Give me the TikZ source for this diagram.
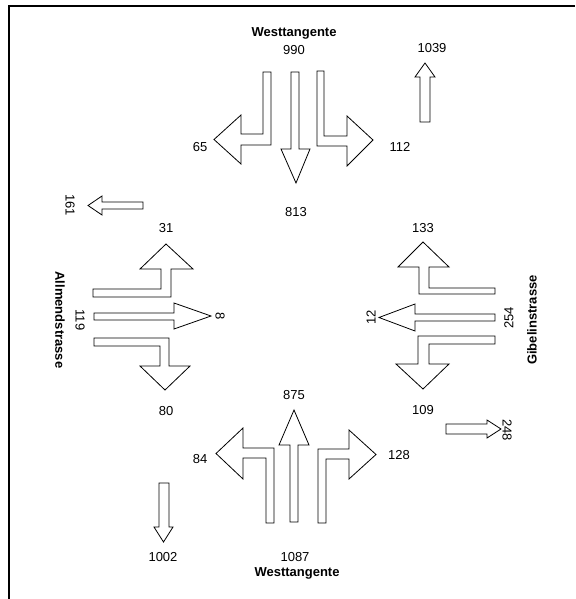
\documentclass[tikz,border=0pt]{standalone}
\usepackage{fontspec}
\setmainfont{Liberation Sans}
\begin{document}
\begin{tikzpicture}[x=1pt,y=-1pt,
  arr/.style={draw=black, fill=white, line width=0.8pt, line join=miter},
  lbl/.style={inner sep=0pt, font=\fontsize{13}{15}\selectfont},
  street/.style={inner sep=0pt, font=\fontsize{13}{15}\selectfont\bfseries},
  frameline/.style={line width=1.5pt}]
\useasboundingbox (0,0) rectangle (575,599);
% frame (clipped on right and bottom)
\coordinate (fbl) at (9,599);
\coordinate (ftl) at (9,6);
\coordinate (ftr) at (575,6);
\draw[frameline] (fbl) -- (ftl) -- (ftr);

% ---- top arm (Westtangente, from north)
\draw[arr] (271,72) -- (271,145) -- (241,145) -- (241,164) -- (214,139.5) -- (241,115) -- (241,134) -- (263,134) -- (263,72) -- cycle;
\draw[arr] (291,72) -- (299,72) -- (299,149) -- (310,149) -- (296,183) -- (281,149) -- (291,149) -- cycle;
\draw[arr] (317,71) -- (324,71) -- (324,136) -- (347,136) -- (347,116) -- (373,140) -- (347,166) -- (347,146) -- (317,146) -- cycle;
\node[street] (wtop) at (294,33) {Westtangente};
\node[lbl] (n990) at (294,50) {990};
\node[lbl] (n65) at (200,147) {65};
\node[lbl] (n112) at (400,147) {112};
\node[lbl] (n813) at (296,212) {813};
% exit north
\draw[arr] (420,122) -- (420,77) -- (415,77) -- (425,63) -- (435,77) -- (430,77) -- (430,122) -- cycle;
\node[lbl] (n1039) at (432,48) {1039};

% ---- left arm (Allmendstrasse)
\draw[arr] (93,289) -- (161,289) -- (161,269) -- (140,269) -- (166,244) -- (193,269) -- (171,269) -- (171,297) -- (93,297) -- cycle;
\draw[arr] (94,313) -- (174,313) -- (174,303) -- (211,316) -- (174,329) -- (174,320) -- (94,320) -- cycle;
\draw[arr] (94,338) -- (169,338) -- (169,366) -- (190,366) -- (165,390) -- (140,366) -- (160,366) -- (160,346) -- (94,346) -- cycle;
\node[street, rotate=-90] (wleft) at (60,320) {Allmendstrasse};
\node[lbl, rotate=-90] (n119) at (80,320) {119};
\node[lbl] (n31) at (166,228) {31};
\node[lbl, rotate=-90] (n8) at (220,316) {8};
\node[lbl] (n80) at (166,411) {80};
% exit west
\draw[arr] (143,202) -- (102,202) -- (102,196) -- (88,205.5) -- (102,215) -- (102,209) -- (143,209) -- cycle;
\node[lbl, rotate=-90] (n161) at (70,205) {161};

% ---- right arm (Gibelinstrasse)
\draw[arr] (495,288) -- (429,288) -- (429,267) -- (449,267) -- (423,242) -- (398,267) -- (419,267) -- (419,294) -- (495,294) -- cycle;
\draw[arr] (495,314) -- (415,314) -- (415,304) -- (379,317.5) -- (415,331) -- (415,321) -- (495,321) -- cycle;
\draw[arr] (495,336) -- (418,336) -- (418,364) -- (396,364) -- (423,389) -- (449,364) -- (429,364) -- (429,344) -- (495,344) -- cycle;
\node[street, rotate=90] (wright) at (532,320) {Gibelinstrasse};
\node[lbl, rotate=90] (n254) at (509,318) {254};
\node[lbl] (n133) at (423,228) {133};
\node[lbl, rotate=90] (n12) at (371,317) {12};
\node[lbl] (n109) at (423,410) {109};
% exit east
\draw[arr] (446,424) -- (487,424) -- (487,420) -- (501,429) -- (487,438) -- (487,434) -- (446,434) -- cycle;
\node[lbl, rotate=-90] (n248) at (507,430) {248};

% ---- bottom arm (Westtangente, from south)
\draw[arr] (274,523) -- (274,448) -- (243,448) -- (243,428) -- (216,453.5) -- (243,479) -- (243,458) -- (266,458) -- (266,523) -- cycle;
\draw[arr] (290,522) -- (290,445) -- (279,445) -- (294,410) -- (309,445) -- (298,445) -- (298,522) -- cycle;
\draw[arr] (318,523) -- (318,449) -- (349,449) -- (349,430) -- (376,454.5) -- (349,479) -- (349,459) -- (326,459) -- (326,523) -- cycle;
\node[lbl] (n875) at (294,395) {875};
\node[lbl] (n84) at (200,459) {84};
\node[lbl] (n128) at (399,455) {128};
\node[lbl] (n1087) at (295,557) {1087};
\node[street] (wbot) at (297,573) {Westtangente};
% exit south
\draw[arr] (159,483) -- (169,483) -- (169,527) -- (173,527) -- (163.5,542) -- (154,527) -- (159,527) -- cycle;
\node[lbl] (n1002) at (163,557) {1002};
\end{tikzpicture}
\end{document}
